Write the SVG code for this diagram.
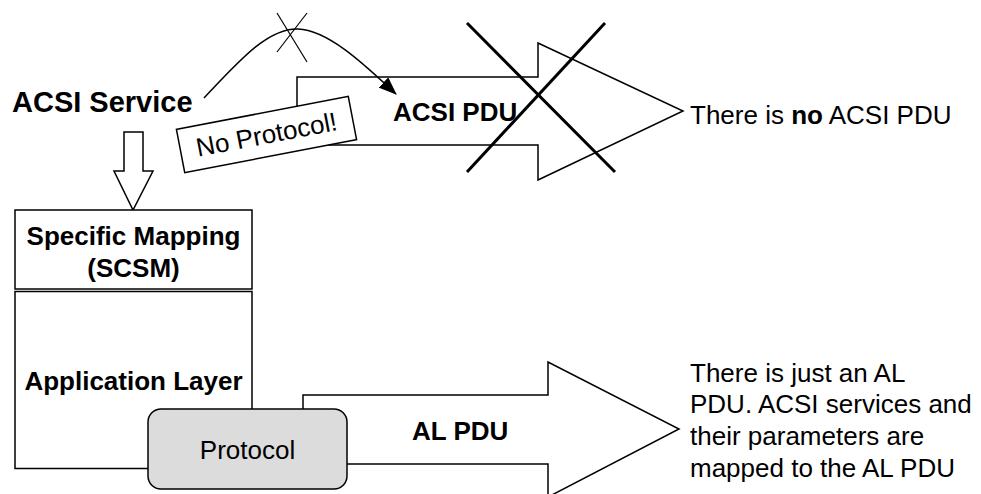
<svg xmlns="http://www.w3.org/2000/svg" width="981" height="494" viewBox="0 0 981 494">
<defs>
<style>
.ln{fill:none;stroke:#000;stroke-width:1.5}
.sh{fill:#fff;stroke:#000;stroke-width:1.5}
.b{font-family:"Liberation Sans",Arial,sans-serif;font-weight:bold;fill:#000}
.r{font-family:"Liberation Sans",Arial,sans-serif;fill:#000}
.x{stroke:#000;stroke-width:3;fill:none}
</style>
<marker id="ah2" markerWidth="18" markerHeight="14" refX="17" refY="7" orient="auto" markerUnits="userSpaceOnUse" viewBox="0 0 18 14">
<path d="M0,0 L18,7 L0,14 z" fill="#000"/>
</marker>
</defs>
<rect width="981" height="494" fill="#fff"/>

<g id="acsi-service">
<text class="b" x="12" y="112" font-size="29">ACSI Service</text>
</g>

<g id="acsi-pdu-arrow">
<path class="sh" d="M297,145 L297,77 L538,77 L538,43 L683,111 L538,180 L538,145 Z"/>
<text class="b" x="393" y="121" font-size="26">ACSI PDU</text>
<line class="x" x1="467" y1="23" x2="615" y2="172"/>
<line class="x" x1="605" y1="23" x2="467" y2="172"/>
</g>

<g id="no-protocol">
<g transform="translate(266.5,134.5) rotate(-10.9)">
<rect class="sh" x="-87.5" y="-22" width="175" height="44"/>
<text class="r" x="0" y="9" font-size="26" text-anchor="middle">No Protocol!</text>
</g>
</g>

<g id="no-acsi-pdu-note">
<text class="r" x="690" y="124" font-size="26">There is <tspan font-weight="bold">no</tspan> ACSI PDU</text>
</g>

<g id="down-arrow">
<path class="sh" d="M124,132 L143,132 L143,171 L153,171 L133,210 L114,171 L124,171 Z"/>
</g>

<g id="specific-mapping">
<rect class="sh" x="15" y="210" width="237" height="79"/>
<text class="b" x="133.5" y="245" font-size="26" text-anchor="middle">Specific Mapping</text>
<text class="b" x="133.5" y="277" font-size="26" text-anchor="middle">(SCSM)</text>
</g>

<g id="application-layer">
<rect class="sh" x="15" y="291.5" width="237" height="177"/>
<text class="b" x="133.5" y="390" font-size="26" text-anchor="middle">Application Layer</text>
</g>

<g id="al-pdu-arrow">
<path class="sh" d="M303,464 L303,395 L548,395 L548,362 L679,429 L548,497 L548,464 Z"/>
<text class="b" x="412" y="440" font-size="26">AL PDU</text>
</g>

<g id="protocol">
<rect x="148" y="409" width="199" height="80" rx="13" ry="13" fill="#dcdcdc" stroke="#000" stroke-width="1.5"/>
<text class="r" x="247.5" y="459" font-size="26" text-anchor="middle">Protocol</text>
</g>

<g id="al-pdu-note">
<text class="r" x="690" font-size="26">
<tspan x="690" y="382">There is just an AL</tspan>
<tspan x="690" y="413">PDU. ACSI services and</tspan>
<tspan x="690" y="445">their parameters are</tspan>
<tspan x="690" y="477">mapped to the AL PDU</tspan>
</text>
</g>

<g id="connectors">
<path class="ln" d="M204,98 C240,60 268,28 298,29 C330,30 370,70 396,94" marker-end="url(#ah2)"/>
<line stroke="#000" stroke-width="1.2" x1="277" y1="13" x2="307" y2="62"/>
<line stroke="#000" stroke-width="1.2" x1="307" y1="13" x2="277" y2="52"/>
</g>
</svg>
